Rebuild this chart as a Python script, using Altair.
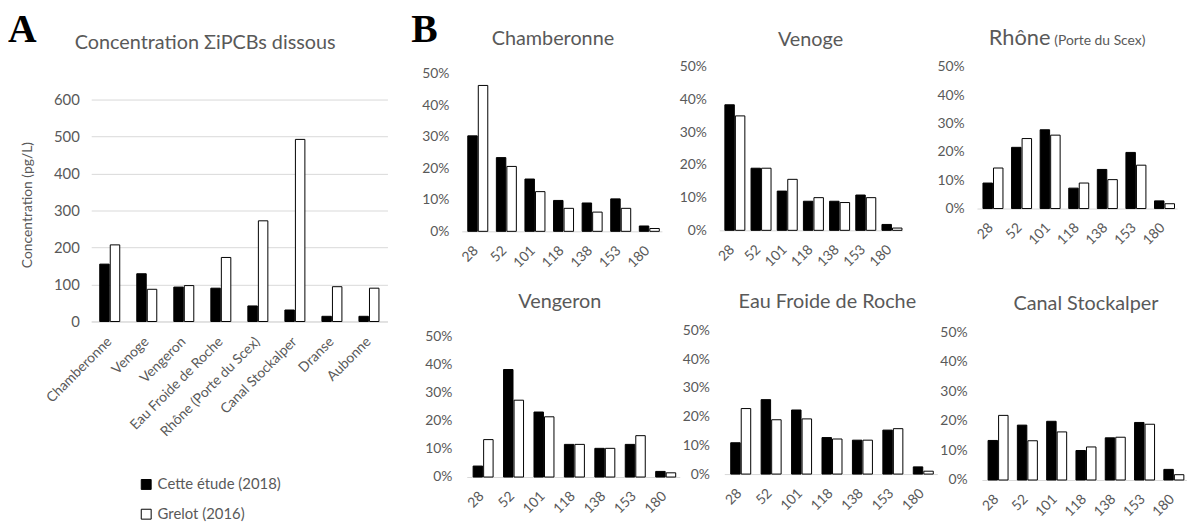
import altair as alt
import pandas as pd

# ---------------- data ----------------
series = ["Cette étude (2018)", "Grelot (2016)"]

sites = ["Chamberonne", "Venoge", "Vengeron", "Eau Froide de Roche",
         "Rhône (Porte du Scex)", "Canal Stockalper", "Dranse", "Aubonne"]
conc_2018 = [155, 129, 93, 90, 42, 31, 14, 14]
conc_2016 = [207, 87, 97, 173, 272, 492, 94, 90]

congeners = ["28", "52", "101", "118", "138", "153", "180"]
cham_2018 = [30.3, 23.4, 16.6, 9.8, 9.0, 10.3, 1.7]
cham_2016 = [46.3, 20.6, 12.6, 7.3, 6.1, 7.3, 0.9]
veno_2018 = [38.4, 19.0, 12.0, 8.9, 8.9, 10.8, 1.8]
veno_2016 = [35.0, 19.0, 15.6, 10.0, 8.5, 10.0, 0.7]
rhone_2018 = [9.0, 21.6, 27.8, 7.2, 13.8, 19.8, 2.7]
rhone_2016 = [14.3, 24.7, 25.9, 9.0, 10.2, 15.3, 1.7]
veng_2018 = [3.9, 38.2, 23.1, 11.6, 10.2, 11.6, 2.0]
veng_2016 = [13.3, 27.3, 21.4, 11.6, 10.2, 14.7, 1.5]
eauf_2018 = [10.9, 25.9, 22.3, 12.7, 11.8, 15.3, 2.5]
eauf_2016 = [22.8, 18.9, 19.2, 12.2, 11.8, 15.8, 1.0]
canal_2018 = [13.4, 18.6, 19.9, 10.0, 14.3, 19.5, 3.6]
canal_2016 = [21.9, 13.3, 16.3, 11.2, 14.5, 18.9, 1.8]

# ---------------- style ----------------
FONT = "Lato"
SERIF = "Liberation Serif"
GRAY = "#595959"
GRID = "#d9d9d9"


def long_df(cats, a, b, key):
    rows = [{key: c, "serie": series[0], "val": v} for c, v in zip(cats, a)]
    rows += [{key: c, "serie": series[1], "val": v} for c, v in zip(cats, b)]
    return pd.DataFrame(rows)


def text_mark(txt, x, y, size, align="center", font=FONT, weight="normal", color=GRAY):
    return alt.Chart(pd.DataFrame({"t": [txt]})).mark_text(
        align=align, baseline="alphabetic", fontSize=size, font=font,
        fontWeight=weight, color=color
    ).encode(text="t:N", x=alt.value(x), y=alt.value(y))


def spacer(w):
    return alt.Chart(pd.DataFrame({"t": [0]})).mark_point(opacity=0).encode(
        x=alt.value(0), y=alt.value(0)).properties(width=w, height=1)


fill_scale = alt.Scale(domain=series, range=["#000000", "#ffffff"])

# ---------------- panel A ----------------
dfA = long_df(sites, conc_2018, conc_2016, "site")
barsA = alt.Chart(dfA).mark_bar(stroke="black", strokeWidth=1).encode(
    x=alt.X("site:N", sort=sites, title=None,
            scale=alt.Scale(paddingInner=0.46, paddingOuter=0.23),
            axis=alt.Axis(labelAngle=-45, labelAlign="right", labelBaseline="middle",
                          labelPadding=18, ticks=False, tickSize=0, domainColor=GRID,
                          labelFontSize=14)),
    xOffset=alt.XOffset("serie:N", sort=series,
                        scale=alt.Scale(domain=series, paddingInner=0.1)),
    y=alt.Y("val:Q", scale=alt.Scale(domain=[0, 688], nice=False),
            title="Concentration (pg/L)",
            axis=alt.Axis(values=[0, 100, 200, 300, 400, 500, 600], grid=True,
                          gridColor=GRID, domain=False, ticks=False, tickSize=0,
                          labelPadding=12, labelFontSize=15, titleFontSize=14,
                          titleFontWeight="normal", titleX=-64, titleY=139,
                          titleAlign="center", titleBaseline="middle", titleAngle=270)),
    fill=alt.Fill("serie:N", scale=fill_scale,
                  legend=alt.Legend(orient="none", legendX=48, legendY=414, title=None,
                                    symbolType="square", symbolSize=100,
                                    symbolStrokeColor="black", symbolStrokeWidth=1,
                                    labelFontSize=15, labelColor=GRAY, labelFont=FONT,
                                    labelOffset=4, rowPadding=14, direction="vertical")),
)
panelA = alt.layer(
    barsA,
    text_mark("Concentration  ΣiPCBs dissous", 115, -18, 20),
    text_mark("A", -84, -25, 40, align="left", font=SERIF, weight="bold", color="black"),
).properties(width=299, height=257)


# ---------------- panel B ----------------
def panel(a, b, width, height, ymax, texts, x0=0, lpad=13):
    df = long_df(congeners, a, b, "pcb")
    bars = alt.Chart(df).mark_bar(stroke="black", strokeWidth=1).encode(
        x=alt.X("pcb:N", sort=congeners, title=None,
                scale=alt.Scale(paddingInner=0.42, paddingOuter=0.21, range=[x0, width]),
                axis=alt.Axis(labelAngle=-45, labelAlign="right", labelBaseline="middle",
                              labelPadding=17, ticks=False, tickSize=0, domainColor=GRID,
                              labelFontSize=14)),
        xOffset=alt.XOffset("serie:N", sort=series,
                            scale=alt.Scale(domain=series, paddingInner=0.3)),
        y=alt.Y("val:Q", scale=alt.Scale(domain=[0, ymax], nice=False), title=None,
                axis=alt.Axis(values=[0, 10, 20, 30, 40, 50],
                              labelExpr="datum.value + '%'", grid=False, domain=False,
                              ticks=False, tickSize=0, labelPadding=lpad, labelFontSize=14)),
        fill=alt.Fill("serie:N", scale=fill_scale, legend=None),
    )
    return alt.layer(bars, *texts).properties(width=width, height=height)


cham = panel(cham_2018, cham_2016, 202, 166, 52.2, [
    text_mark("Chamberonne", 92, -22, 20),
    text_mark("B", -51, -25, 40, align="left", font=SERIF, weight="bold", color="black"),
])
veno = panel(veno_2018, veno_2016, 185, 165, 50, [text_mark("Venoge", 92, -21, 20)])
rhone = panel(rhone_2018, rhone_2016, 202, 143, 50, [
    text_mark("Rhône", 12, -22, 22, align="left"),
    text_mark("(Porte du Scex)", 78, -22, 14, align="left"),
])
veng = panel(veng_2018, veng_2016, 220, 148, 52.1,
             [text_mark("Vengeron", 99, -23, 20)], x0=5, lpad=10)
eauf = panel(eauf_2018, eauf_2016, 220, 145, 50,
             [text_mark("Eau Froide de Roche", 109, -23, 20)], x0=5, lpad=10)
canal = panel(canal_2018, canal_2016, 212, 151, 50.7,
              [text_mark("Canal Stockalper", 110, -21, 20)], x0=5, lpad=10)

cells = [
    panelA, spacer(75), cham, spacer(40), veno, spacer(40), rhone,
    spacer(1), spacer(1), veng, spacer(1), eauf, spacer(1), canal,
]

chart = alt.concat(*cells, columns=7, spacing={"row": 9, "column": 0},
                   align="each", bounds="flush").properties(
    padding=0
).configure_view(stroke=None).configure_axis(
    labelFont=FONT, titleFont=FONT, labelColor=GRAY, titleColor=GRAY
)

chart.save("out.html", embed_options={"renderer": "svg", "actions": False})
